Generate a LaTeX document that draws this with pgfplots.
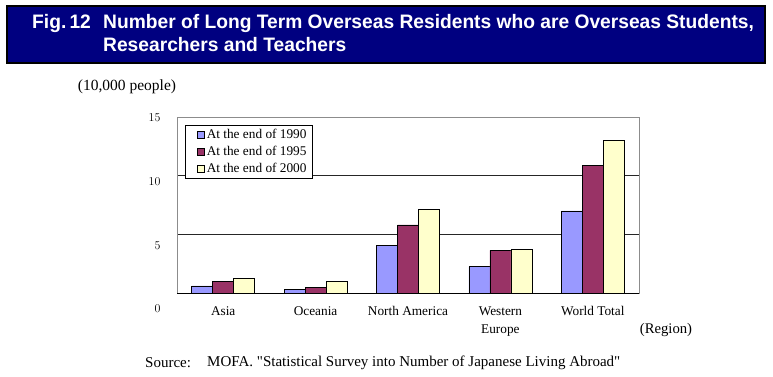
\documentclass[border=0pt]{standalone}
\usepackage{fontspec}
\setmainfont{Liberation Serif}
\newfontfamily\titlefont{Liberation Sans}
\usepackage{pgfplots}
\pgfplotsset{compat=1.18}
\definecolor{navy}{HTML}{000080}
\definecolor{c90}{HTML}{9999FF}
\definecolor{c95}{HTML}{993366}
\definecolor{c00}{HTML}{FFFFCC}
\begin{document}
\begin{tikzpicture}[x=1pt,y=1pt]
\path[use as bounding box] (0,0) rectangle (773,377);
% title box
\draw[fill=navy,draw=black,line width=1.2pt] (7,314) rectangle (765,371);
\tikzset{ttl/.style={anchor=base west,inner sep=0,text=white,font=\titlefont\bfseries\fontsize{19.5}{23}\selectfont,xscale=0.985}}
\node[ttl] at (32,348) {Fig.\,12};
\node[ttl] at (103,348) {Number of Long Term Overseas Residents who are Overseas Students,};
\node[ttl] at (103,325) {Researchers and Teachers};
% unit labels
\node[font=\fontsize{15.5}{17}\selectfont,inner sep=0] at (127,290) {(10,000 people)};
\node[font=\fontsize{14.7}{17}\selectfont,inner sep=0] at (666,47) {(Region)};
\node[anchor=west,font=\fontsize{15}{17}\selectfont,inner sep=0] at (145,14) {Source:};
\node[anchor=west,font=\fontsize{15}{17}\selectfont,inner sep=0] at (207,14) {MOFA. \textquotedbl Statistical Survey into Number of Japanese Living Abroad\textquotedbl};
\begin{axis}[
  at={(177pt,84pt)}, anchor=south west,
  scale only axis, width=462pt, height=176pt,
  xmin=-0.5, xmax=4.5, ymin=0, ymax=15,
  ybar=0pt, bar width=21pt,
  axis line style={draw=black!45},
  xtick={0,1,2,3,4},
  xticklabels={Asia, Oceania, North America, {Western\\Europe}, World Total},
  xticklabel style={align=center, font=\fontsize{13.3}{18}\selectfont, yshift=-10pt},
  ytick={0,5,10,15},
  ymajorgrids,
  grid style={black!85, line width=0.6pt},
  major tick length=0pt,
  yticklabel style={font=\fontsize{12}{14}\selectfont, xshift=-13pt, yshift={(-16+5*\ticknum)*1pt}},
  legend style={at={(0.018,0.955)}, anchor=north west, draw=black, font=\fontsize{13.3}{15}\selectfont, row sep=2pt, inner xsep=4pt, inner ysep=2pt},
  legend cell align=left,
  legend image code/.code={\path[draw=none,fill=none] (0pt,0pt) -- (7pt,0pt); \draw[#1,draw=black,line width=0.5pt] (8pt,-3.5pt) rectangle (15pt,3.5pt);},
  clip=false,
]
\addplot[fill=c90, draw=black, line width=0.6pt] coordinates {(0,0.6) (1,0.3) (2,4.09) (3,2.24) (4,6.99)};
\addplot[fill=c95, draw=black, line width=0.6pt] coordinates {(0,0.96) (1,0.49) (2,5.8) (3,3.64) (4,10.88)};
\addplot[fill=c00, draw=black, line width=0.6pt] coordinates {(0,1.25) (1,1.0) (2,7.13) (3,3.72) (4,13.0)};
\legend{At the end of 1990, At the end of 1995, At the end of 2000}
\draw[black, line width=0.8pt] (axis cs:-0.5,0) -- (axis cs:4.5,0);
\draw[black!45, line width=0.8pt] (axis cs:-0.5,15) -- (axis cs:4.5,15);
\end{axis}
\end{tikzpicture}
\end{document}
